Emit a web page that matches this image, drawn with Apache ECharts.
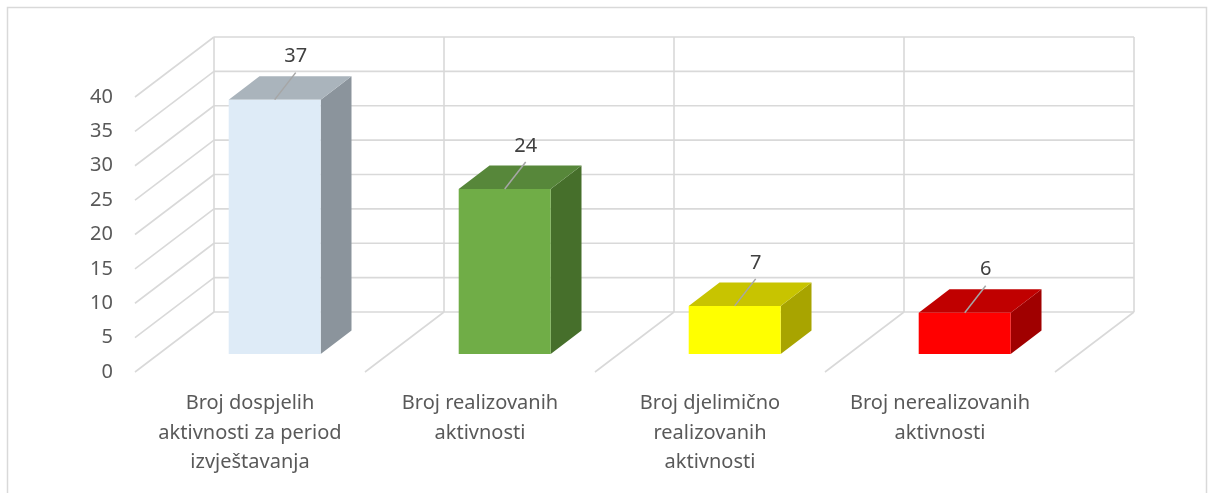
<!DOCTYPE html>
<html>
<head>
<meta charset="utf-8">
<script src="https://cdn.jsdelivr.net/npm/echarts@6/dist/echarts.min.js"></script>
<style>
  html, body { margin: 0; padding: 0; background: #fff; }
  #chart { width: 1213px; height: 493px; }
</style>
</head>
<body>
<div id="chart"></div>
<script>
// podaci
const categories = [
  'Broj dospjelih\naktivnosti za period\nizvještavanja',
  'Broj realizovanih\naktivnosti',
  'Broj djelimično\nrealizovanih\naktivnosti',
  'Broj nerealizovanih\naktivnosti'
];
const values = [37, 24, 7, 6];
const yTicks = [0, 5, 10, 15, 20, 25, 30, 35, 40];

// boje stubova: prednja, gornja, bočna strana
const frontColors = ['#deebf7', '#70ad47', '#ffff00', '#ff0000'];
const topColors = ['#aab4bc', '#57873a', '#c8c400', '#c00000'];
const sideColors = ['#8b949c', '#466f2b', '#a8a400', '#a00000'];

// 3D pomak (dubina) u pikselima
const DX = 79;
const DY = 60;
const Z0 = 0.3, Z1 = 0.69;
const GRID_COLOR = '#d9d9d9';

let myChart = echarts.init(document.getElementById('chart'));

// zidovi: bočne dijagonale i horizontalne linije na zadnjem zidu
function renderWalls(params, api) {
  let cs = params.coordSys;
  let y = api.coord([0, api.value(0)])[1];
  let style = { stroke: GRID_COLOR, lineWidth: 1.6 };
  return {
    type: 'group',
    children: [
      { type: 'line', shape: { x1: cs.x, y1: y, x2: cs.x + DX, y2: y - DY }, style: style },
      { type: 'line', shape: { x1: cs.x + DX, y1: y - DY, x2: cs.x + cs.width + DX, y2: y - DY }, style: style }
    ]
  };
}

// granice kategorija: dijagonale na podu i vertikale na zadnjem zidu
function renderDividers(params, api) {
  let cs = params.coordSys;
  let k = api.value(0);
  let x = cs.x + k * cs.width / categories.length;
  let y0 = api.coord([0, yTicks[0]])[1];
  let yTop = api.coord([0, yTicks[yTicks.length - 1]])[1];
  let style = { stroke: GRID_COLOR, lineWidth: 1.6 };
  let children = [
    { type: 'line', shape: { x1: x + DX, y1: y0 - DY, x2: x + DX, y2: yTop - DY }, style: style }
  ];
  if (k > 0) {
    children.push({ type: 'line', shape: { x1: x, y1: y0, x2: x + DX, y2: y0 - DY }, style: style });
  }
  return { type: 'group', children: children };
}

function barGeom(api) {
  let i = api.value(0);
  let base = api.coord([i, 0]);
  let top = api.coord([i, api.value(1)]);
  let half = api.size([1, 0])[0] * 0.2;
  return {
    i: i,
    l: base[0] - half + 1, r: base[0] + half + 1,
    yb: base[1], yt: top[1],
    fx: Z0 * DX, fy: Z0 * DY, bx: Z1 * DX, by: Z1 * DY
  };
}

function renderBar(params, api) {
  let g = barGeom(api);
  let i = g.i;
  return {
    type: 'group',
    children: [
      {
        type: 'polygon',
        shape: { points: [
          [g.r + g.fx, g.yt - g.fy], [g.r + g.bx, g.yt - g.by],
          [g.r + g.bx, g.yb - g.by], [g.r + g.fx, g.yb - g.fy]
        ] },
        style: { fill: sideColors[i] }
      },
      {
        type: 'polygon',
        shape: { points: [
          [g.l + g.fx, g.yt - g.fy], [g.r + g.fx, g.yt - g.fy],
          [g.r + g.bx, g.yt - g.by], [g.l + g.bx, g.yt - g.by]
        ] },
        style: { fill: topColors[i] }
      },
      {
        type: 'rect',
        shape: { x: g.l + g.fx, y: g.yt - g.fy, width: g.r - g.l, height: g.yb - g.yt },
        style: { fill: frontColors[i] }
      }
    ]
  };
}

// oznake vrijednosti s linijom
function renderLabel(params, api) {
  let g = barGeom(api);
  let ax = (g.l + g.r) / 2 + g.fx;
  let ay = g.yt - g.fy;
  let tx = ax + 21, ty = ay - 43;
  return {
    type: 'group',
    children: [
      { type: 'line', shape: { x1: tx, y1: ty + 16, x2: ax, y2: ay }, style: { stroke: '#a6a6a6', lineWidth: 1.5 } },
      {
        type: 'text',
        style: {
          text: String(api.value(1)), x: tx, y: ty,
          align: 'center', verticalAlign: 'middle',
          fill: '#404040', font: '20px "Noto Sans"'
        }
      }
    ]
  };
}

myChart.setOption({
  animation: false,
  textStyle: { fontFamily: 'Noto Sans' },
  graphic: [{
    type: 'rect',
    shape: { x: 7.5, y: 7.5, width: 1199, height: 520 },
    style: { fill: 'none', stroke: GRID_COLOR, lineWidth: 1.5 },
    silent: true
  }],
  grid: { left: 135, right: 158, top: 97, bottom: 121 },
  xAxis: {
    type: 'category',
    data: categories,
    axisLine: { show: false },
    axisTick: { show: false },
    axisLabel: { interval: 0, margin: 17, fontSize: 20, lineHeight: 29.5, color: '#595959' }
  },
  yAxis: {
    type: 'value',
    min: 0, max: 40, interval: 5,
    axisLine: { show: false },
    axisTick: { show: false },
    splitLine: { show: false },
    axisLabel: { margin: 22, fontSize: 20, color: '#595959' }
  },
  series: [
    {
      type: 'custom', name: 'walls', z: 1, clip: false, silent: true,
      renderItem: renderWalls,
      data: yTicks.map(v => [v])
    },
    {
      type: 'custom', name: 'dividers', z: 1, clip: false, silent: true,
      renderItem: renderDividers,
      data: categories.map((c, k) => [k]).concat([[categories.length]])
    },
    {
      type: 'custom', name: 'bars', z: 2, clip: false, silent: true,
      renderItem: renderBar,
      encode: { x: 0, y: 1 },
      data: values.map((v, i) => [i, v])
    },
    {
      type: 'custom', name: 'labels', z: 3, clip: false, silent: true,
      renderItem: renderLabel,
      encode: { x: 0, y: 1 },
      data: values.map((v, i) => [i, v])
    }
  ]
});
</script>
</body>
</html>
